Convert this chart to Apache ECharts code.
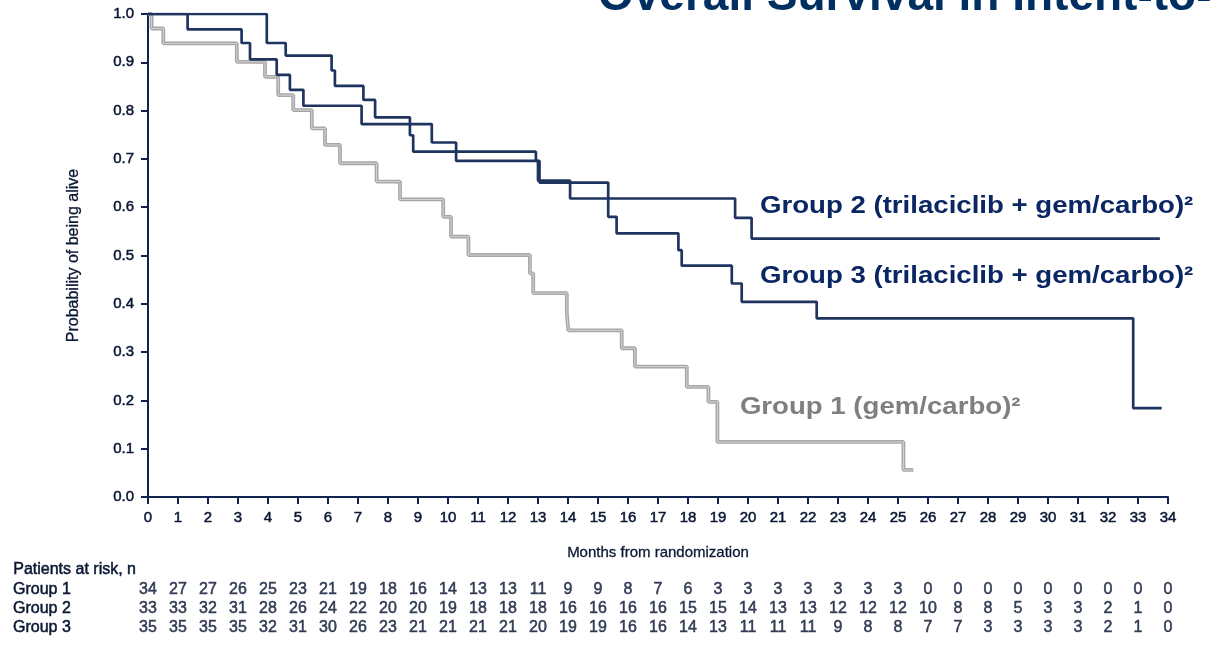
<!DOCTYPE html>
<html>
<head>
<meta charset="utf-8">
<script src="https://cdn.jsdelivr.net/npm/echarts@6/dist/echarts.min.js"></script>
<style>html,body{margin:0;padding:0;background:#fff}#c{width:1210px;height:649px}</style>
</head>
<body>
<div id="c"></div>
<script>
// Kaplan-Meier steps: [month, survival probability]
const group1 = [[0,1.0],[0.12,0.97],[0.51,0.939],[2.96,0.901],[3.9,0.87],[4.34,0.832],[4.84,0.801],[5.46,0.763],[5.9,0.729],[6.4,0.691],[7.62,0.653],[8.4,0.616],[9.84,0.58],[10.1,0.539],[10.68,0.501],[12.73,0.463],[12.84,0.422],[13.96,0.38],[14.01,0.345],[15.79,0.308],[16.23,0.27],[17.96,0.228],[18.68,0.197],[18.98,0.114],[25.18,0.056],[25.51,0.056]];
const group2 = [[0,1.0],[1.32,0.968],[3.12,0.94],[3.4,0.906],[4.29,0.874],[4.73,0.843],[5.18,0.81],[7.12,0.772],[9.46,0.734],[10.27,0.696],[13.0,0.655],[14.07,0.618],[19.57,0.578],[20.12,0.535],[33.73,0.535]];
const group3 = [[0,1.0],[3.96,0.94],[4.59,0.914],[6.12,0.883],[6.23,0.851],[7.18,0.822],[7.57,0.786],[8.73,0.749],[8.84,0.715],[12.93,0.696],[13.05,0.651],[15.34,0.58],[15.62,0.546],[17.68,0.511],[17.79,0.479],[19.46,0.442],[19.79,0.404],[22.29,0.37],[32.84,0.184],[33.79,0.184]];

const riskMonths = [0,1,2,3,4,5,6,7,8,9,10,11,12,13,14,15,16,17,18,19,20,21,22,23,24,25,26,27,28,29,30,31,32,33,34];
const risk1 = [34,27,27,26,25,23,21,19,18,16,14,13,13,11,9,9,8,7,6,3,3,3,3,3,3,3,0,0,0,0,0,0,0,0,0];
const risk2 = [33,33,32,31,28,26,24,22,20,20,19,18,18,18,16,16,16,16,15,15,14,13,13,12,12,12,10,8,8,5,3,3,2,1,0];
const risk3 = [35,35,35,35,32,31,30,26,23,21,21,21,21,20,19,19,16,16,14,13,11,11,11,9,8,8,7,7,3,3,3,3,2,1,0];
const riskRows = ['Group 1','Group 2','Group 3'];

const seriesLabels = ['Group 1 (gem/carbo)²','Group 2 (trilaciclib + gem/carbo)²','Group 3 (trilaciclib + gem/carbo)²'];

const NAVY = '#1f3560';
const AX = '#0f2450';
const TXT = '#0a1733';
const FONT = 'Liberation Sans, Arial, sans-serif';
const THICK = {textBorderColor:TXT, textBorderWidth:0.5};

const chart = echarts.init(document.getElementById('c'), null, {renderer:'canvas'});

function riskSeries(arr, row){
  return {
    type:'scatter', xAxisIndex:1, yAxisIndex:1, symbolSize:1, silent:true,
    itemStyle:{color:'rgba(0,0,0,0)'},
    label:Object.assign({show:true, position:'inside', formatter:p=>p.value[2], color:TXT, fontSize:16, fontFamily:FONT}, THICK),
    data: arr.map((v,i)=>[riskMonths[i], row, v])
  };
}

chart.setOption({
  animation:false,
  backgroundColor:'#fff',
  textStyle:{fontFamily:FONT},
  grid:[
    {left:148, right:42, top:14, bottom:152, containLabel:false},
    {left:148, right:42, top:580, height:57, containLabel:false}
  ],
  xAxis:[
    {type:'value', gridIndex:0, min:0, max:34, interval:1,
     name:'Months from randomization', nameLocation:'middle', nameGap:48,
     nameTextStyle:Object.assign({color:TXT, fontSize:15, fontFamily:FONT}, {textBorderColor:TXT, textBorderWidth:0.3}),
     axisLine:{lineStyle:{color:AX, width:2}},
     axisTick:{show:true, length:7, lineStyle:{color:AX, width:2}},
     axisLabel:Object.assign({color:TXT, fontSize:15, margin:13, fontFamily:FONT}, THICK),
     splitLine:{show:false}},
    {type:'value', gridIndex:1, min:0, max:34, interval:1, show:false}
  ],
  yAxis:[
    {type:'value', gridIndex:0, min:0, max:1, interval:0.1,
     name:'Probability of being alive', nameLocation:'middle', nameGap:66, nameRotate:90,
     nameTextStyle:Object.assign({color:TXT, fontSize:16, fontFamily:FONT}, {textBorderColor:TXT, textBorderWidth:0.3}),
     axisLine:{show:true, lineStyle:{color:AX, width:2}},
     axisTick:{show:true, length:7, lineStyle:{color:AX, width:2}},
     axisLabel:Object.assign({color:TXT, fontSize:15, margin:14, fontFamily:FONT, formatter:v=>v.toFixed(1)}, THICK),
     splitLine:{show:false}},
    {type:'category', gridIndex:1, data:riskRows, inverse:true,
     axisLine:{show:false}, axisTick:{show:false}, splitLine:{show:false},
     axisLabel:Object.assign({color:TXT, fontSize:16, align:'left', margin:135, interval:0, fontFamily:FONT}, THICK)}
  ],
  series:[
    {name:'Group 1 outer', type:'line', step:'end', data:group1, showSymbol:false, silent:true,
     lineStyle:{color:'#a6a6a6', width:3.8}, z:2},
    {name:'Group 1 inner', type:'line', step:'end', data:group1, showSymbol:false, silent:true,
     lineStyle:{color:'#d4d4d4', width:1}, z:3},
    {name:'Group 3', type:'line', step:'end', data:group3, showSymbol:false, silent:true,
     lineStyle:{color:NAVY, width:2.7}, z:4},
    {name:'Group 2', type:'line', step:'end', data:group2, showSymbol:false, silent:true,
     lineStyle:{color:NAVY, width:2.7}, z:5},
    riskSeries(risk1,'Group 1'),
    riskSeries(risk2,'Group 2'),
    riskSeries(risk3,'Group 3')
  ]
});

// series labels anchored in data coordinates (month, probability)
const anchors = [[19.73,0.186],[20.4,0.602],[20.4,0.4575]];
const labelColors = ['#7f7f7f','#0a2663','#0a2663'];
const gr = [
  {type:'text', left:598, top:-26, style:{text:'Overall Survival in Intent-to-Treat Population', fill:'#002f62', font:'bold 46px '+FONT}},
  {type:'text', left:13, top:561, style:{text:'Patients at risk, n', fill:TXT, font:'16px '+FONT, stroke:TXT, lineWidth:0.5}}
];
anchors.forEach((a,i)=>{
  const p = chart.convertToPixel({gridIndex:0}, a);
  gr.push({type:'text', x:p[0], y:p[1], scaleX:1.15, scaleY:1,
    style:{text:seriesLabels[i], fill:labelColors[i], font:'bold 24px '+FONT, textAlign:'left', textVerticalAlign:'middle'}});
});
chart.setOption({graphic:gr});
</script>
</body>
</html>
